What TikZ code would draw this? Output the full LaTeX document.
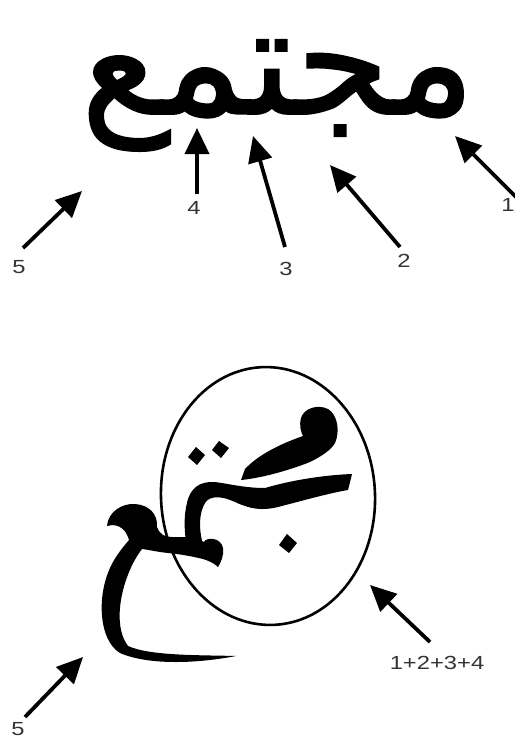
\documentclass[tikz,border=0pt]{standalone}
\usepackage{fontspec}
\usetikzlibrary{arrows.meta,shapes.geometric}
\TeXXeTstate=1
\newfontfamily\arabicfont[Script=Arabic,FakeBold=1.2]{DejaVu Sans}
\newfontfamily\lblfont{Liberation Sans}
\tikzset{
  arr/.style={line width=3.8pt,-{Triangle[length=26pt,width=24pt]}},
  lbl/.style={inner sep=0pt,text=black!80,font=\lblfont\fontsize{19}{19}\selectfont},
  glyph/.style={fill=black},
}
\newcommand{\lbltxt}[1]{\scalebox{1.25}[1]{#1}}
\begin{document}
\begin{tikzpicture}[x=1pt,y=-1pt]
\useasboundingbox (0,0) rectangle (514,741);
% ---------- top word ----------
\node[inner sep=0pt,anchor=base] (word) at (278,114)
  {\arabicfont\fontsize{152}{152}\selectfont\beginR مجتمع\endR};
% top labels and arrows
\node[lbl] (l1) at (508,205) {\lbltxt{1}};
\node[lbl] (l2) at (404,261) {\lbltxt{2}};
\node[lbl] (l3) at (286,269) {\lbltxt{3}};
\node[lbl] (l4) at (194,208) {\lbltxt{4}};
\node[lbl] (l5) at (19,267) {\lbltxt{5}};
\coordinate (s1) at (522,203);
\coordinate (t1) at (455,136);
\coordinate (s2) at (400,247);
\coordinate (t2) at (330,165);
\coordinate (s3) at (285,247);
\coordinate (t3) at (253,136);
\coordinate (s4) at (197,194);
\coordinate (t4) at (197,128);
\coordinate (s5) at (23,248);
\coordinate (t5) at (82,191);
\draw[arr] (s1) -- (t1);
\draw[arr] (s2) -- (t2);
\draw[arr] (s3) -- (t3);
\draw[arr] (s4) -- (t4);
\draw[arr] (s5) -- (t5);
% ---------- bottom stacked form ----------
\node[draw,line width=2.6pt,ellipse,inner sep=0pt,minimum width=214pt,minimum height=258pt,rotate=3] (ell) at (268,496) {};
% mim head + upper arm
\fill[glyph] (303,436) .. controls (280,444) and (258,455) .. (245,469)
  -- (241,480)
  .. controls (262,478) and (290,470) .. (310,462)
  .. controls (322,456) and (331,450) .. (335,443)
  .. controls (340,432) and (338,415) .. (328,409)
  .. controls (318,404) and (304,408) .. (301,418)
  .. controls (299,426) and (301,432) .. (303,436) -- cycle;
% band + S stroke
\fill[glyph] (352,474) .. controls (325,475) and (292,480) .. (265,488)
  .. controls (245,488) and (230,484) .. (215,482)
  .. controls (200,481) and (190,488) .. (187,503)
  .. controls (184,515) and (184,528) .. (186,541)
  -- (202,541)
  .. controls (199,528) and (199,513) .. (205,503)
  .. controls (210,495) and (222,496) .. (235,502)
  .. controls (250,509) and (262,511) .. (278,507)
  .. controls (305,500) and (330,493) .. (348,490) -- cycle;
% ain head, tail, joining stroke and final blob
\fill[glyph] (107,526) .. controls (108,512) and (122,503) .. (135,504)
  .. controls (149,505) and (158,514) .. (157,527)
  .. controls (160,535) and (165,537) .. (172,537)
  -- (186,537) .. controls (194,538) and (200,540) .. (204,542)
  .. controls (206,537) and (221,537) .. (223,548)
  .. controls (224,556) and (221,562) .. (218,567)
  .. controls (214,563) and (209,561) .. (203,559)
  .. controls (195,557) and (180,554) .. (168,553)
  .. controls (158,552) and (150,550) .. (142,549)
  .. controls (124,572) and (110,622) .. (128,646)
  .. controls (150,656) and (200,655) .. (236,656)
  .. controls (200,663) and (150,666) .. (120,653)
  .. controls (98,640) and (96,592) .. (113,562)
  .. controls (118,553) and (124,546) .. (129,540)
  .. controls (127,532) and (120,522) .. (107,526) -- cycle;
% dots
\fill[glyph] (196,447) -- (205,455) -- (197,465) -- (188,457) -- cycle;
\fill[glyph] (219,441) -- (229,448) -- (221,458) -- (212,450) -- cycle;
\fill[glyph] (287,534) -- (297,543) -- (289,553) -- (279,545) -- cycle;
% bottom labels and arrows
\node[lbl] (l1234) at (437,663) {\lbltxt{1+2+3+4}};
\node[lbl] (l5b) at (18,729) {\lbltxt{5}};
\coordinate (s6) at (430,642);
\coordinate (t6) at (370,585);
\coordinate (s7) at (25,717);
\coordinate (t7) at (83,657);
\draw[arr] (s6) -- (t6);
\draw[arr] (s7) -- (t7);
\end{tikzpicture}
\end{document}
